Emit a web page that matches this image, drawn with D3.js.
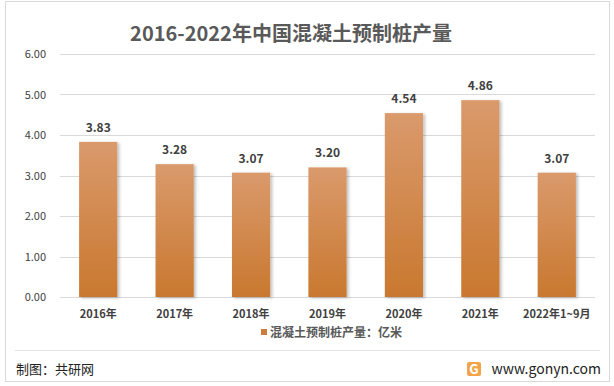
<html lang="zh">
<head>
<meta charset="UTF-8">
<script src="https://d3js.org/d3.v7.min.js"></script>
<style>
    body { margin: 0; background: #fff; }
    text { font-family: "Noto Sans CJK SC", "DejaVu Sans", sans-serif; }
</style>
</head>
<body>
<div id="here"></div>
<script>
    const categories = ["2016年", "2017年", "2018年", "2019年", "2020年", "2021年", "2022年1~9月"];
    const values = [3.83, 3.28, 3.07, 3.20, 4.54, 4.86, 3.07];
    const yTicks = [0, 1, 2, 3, 4, 5, 6];
    const title = "2016-2022年中国混凝土预制桩产量";
    const seriesName = "混凝土预制桩产量：亿米";

    const W = 614, H = 386;
    const plotLeft = 60, plotRight = 595, plotTop = 54, plotBottom = 297;

    const svg = d3.select("#here").append("svg")
        .attr("width", W).attr("height", H);

    const defs = svg.append("defs");
    const grad = defs.append("linearGradient").attr("id", "barGrad")
        .attr("x1", 0).attr("y1", 0).attr("x2", 0).attr("y2", 1);
    grad.append("stop").attr("offset", "0%").attr("stop-color", "#da9a6c");
    grad.append("stop").attr("offset", "100%").attr("stop-color", "#c9782f");

    const sh = defs.append("filter").attr("id", "shadow")
        .attr("x", "-20%").attr("y", "-10%").attr("width", "150%").attr("height", "130%");
    sh.append("feDropShadow").attr("dx", 2).attr("dy", 1).attr("stdDeviation", 1.5)
        .attr("flood-color", "#000").attr("flood-opacity", 0.25);

    // outer frame
    svg.append("rect").attr("x", 5.5).attr("y", 1.5).attr("width", 604).attr("height", 380)
        .attr("fill", "none").attr("stroke", "#d9d9d9");

    const x = d3.scaleBand().domain(categories).range([plotLeft, plotRight]).paddingInner(0.5).paddingOuter(0.25);
    const y = d3.scaleLinear().domain([0, 6]).range([plotBottom, plotTop]);

    // gridlines
    svg.append("g").selectAll("line").data(yTicks).enter().append("line")
        .attr("x1", plotLeft).attr("x2", plotRight)
        .attr("y1", d => Math.round(y(d)) + 0.5).attr("y2", d => Math.round(y(d)) + 0.5)
        .attr("stroke", "#d9d9d9");

    // y axis labels
    const yAxis = svg.append("g").attr("transform", `translate(${plotLeft - 11},0)`)
        .call(d3.axisLeft(y).tickValues(yTicks).tickFormat(d3.format(".2f")).tickSize(0));
    yAxis.select(".domain").remove();
    yAxis.selectAll("text").attr("font-size", 11).attr("fill", "#404040")
        .attr("font-family", "\"Noto Sans CJK SC\", sans-serif");

    // x axis labels
    const xAxis = svg.append("g").attr("transform", `translate(0,${plotBottom + 10})`)
        .call(d3.axisBottom(x).tickSize(0));
    xAxis.select(".domain").remove();
    xAxis.selectAll("text").attr("font-size", 11).attr("font-weight", "bold").attr("fill", "#404040")
        .attr("font-family", "\"Noto Sans CJK SC\", sans-serif");

    // bars
    svg.append("g").selectAll("rect").data(values).enter().append("rect")
        .attr("x", (d, i) => x(categories[i]))
        .attr("y", d => y(d))
        .attr("width", x.bandwidth())
        .attr("height", d => plotBottom - y(d))
        .attr("fill", "url(#barGrad)")
        .attr("filter", "url(#shadow)");

    // value labels
    svg.append("g").selectAll("text").data(values).enter().append("text")
        .attr("x", (d, i) => x(categories[i]) + x.bandwidth() / 2)
        .attr("y", d => y(d) - 10)
        .attr("text-anchor", "middle")
        .attr("font-size", 12).attr("font-weight", "bold").attr("fill", "#404040")
        .text(d => d.toFixed(2));

    // title
    svg.append("text").attr("x", 291).attr("y", 41).attr("text-anchor", "middle")
        .attr("font-size", 20).attr("font-weight", "bold").attr("fill", "#595959")
        .text(title);

    // legend
    svg.append("rect").attr("x", 261).attr("y", 329).attr("width", 6).attr("height", 6).attr("fill", "#cd7d3b");
    svg.append("text").attr("x", 270).attr("y", 337).attr("font-size", 12).attr("font-weight", "bold")
        .attr("fill", "#595959").text(seriesName);

    // footer
    svg.append("line").attr("x1", 15).attr("x2", 600).attr("y1", 350.5).attr("y2", 350.5)
        .attr("stroke", "#e3e3e3");
    svg.append("text").attr("x", 16).attr("y", 374).attr("font-size", 13).attr("fill", "#222")
        .text("制图：共研网");

    const logo = svg.append("g").attr("transform", "translate(467,362)");
    logo.append("rect").attr("width", 14).attr("height", 14).attr("rx", 2).attr("fill", "#f3a44a");
    logo.append("text").attr("x", 7).attr("y", 12).attr("text-anchor", "middle").attr("font-size", 13)
        .attr("font-weight", "bold").attr("fill", "#fff").attr("font-family", "DejaVu Sans").text("G");
    svg.append("text").attr("x", 601).attr("y", 374).attr("text-anchor", "end").attr("font-size", 14)
        .attr("fill", "#222").attr("font-family", "\"DejaVu Sans\", sans-serif").text("www.gonyn.com");
</script>
</body>
</html>
